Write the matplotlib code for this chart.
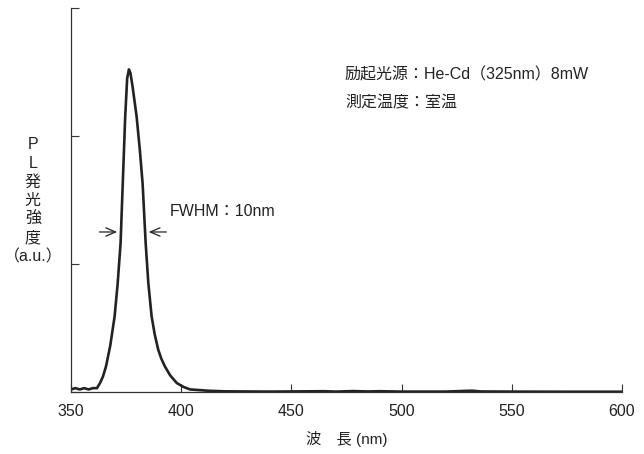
import matplotlib
matplotlib.use('Agg')
import matplotlib.pyplot as plt

plt.rcParams['font.family'] = ['Liberation Sans', 'Noto Sans CJK JP', 'DejaVu Sans']

# PL spectrum (wavelength nm, intensity a.u.)
wavelength = [350, 352, 354, 356, 358, 360, 361.8, 363.2, 364.5, 365.9, 367.8,
              369.8, 371.2, 372.5, 373.5, 374.6, 375.5, 376.3, 377.0, 378.0,
              379.8, 381.2, 382.5, 383.9, 385.1, 386.6, 388.0, 389.6, 391.0,
              392.6, 395.0, 398.0, 401.0, 404.0, 408.0, 412.0, 420.0, 440.0,
              465.0, 470.0, 478.0, 485.0, 490.0, 500.0, 520.0, 528.0, 532.0,
              536.0, 550.0, 575.0, 600.0]
intensity = [0.02, 0.03, 0.02, 0.03, 0.02, 0.03, 0.03, 0.07, 0.12, 0.20, 0.36,
             0.59, 0.85, 1.16, 1.63, 2.15, 2.45, 2.52, 2.49, 2.38,
             2.15, 1.90, 1.63, 1.16, 0.85, 0.59, 0.45, 0.33, 0.26,
             0.20, 0.13, 0.07, 0.04, 0.02, 0.015, 0.01, 0.005, 0.003,
             0.006, 0.003, 0.007, 0.004, 0.006, 0.003, 0.003, 0.008, 0.01,
             0.004, 0.003, 0.002, 0.002]

x_ticks = [350, 400, 450, 500, 550, 600]
y_ticks = [0, 1, 2, 3]

fwhm_left = 372.2
fwhm_right = 384.0
half_max = 1.25

fig = plt.figure(figsize=(6.44, 4.54), dpi=100)
ax = fig.add_axes([0.1102, 0.1366, 0.8556, 0.8458])

ax.plot(wavelength, intensity, color='#222222', lw=1.9)

ax.set_xlim(350, 600)
ax.set_ylim(0, 3)
ax.set_xticks(x_ticks)
ax.set_xticklabels([str(v) for v in x_ticks], fontsize=11.5, color='#222222')
ax.set_yticks(y_ticks)
ax.set_yticklabels([])
ax.tick_params(direction='in', length=6, width=0.8, color='#333333')
ax.tick_params(axis='x', pad=9)
for side in ['top', 'right']:
    ax.spines[side].set_visible(False)
for side in ['left', 'bottom']:
    ax.spines[side].set_color('#333333')
    ax.spines[side].set_linewidth(0.9)

# FWHM arrows
arrow = dict(arrowstyle='->,head_length=0.7,head_width=0.3',
             color='#222222', lw=0.9)
ax.annotate('', xy=(fwhm_left, half_max), xytext=(fwhm_left - 10.5, half_max),
            arrowprops=arrow)
ax.annotate('', xy=(fwhm_right, half_max), xytext=(fwhm_right + 10.5, half_max),
            arrowprops=arrow)
ax.text(395, 1.41, 'FWHM：10nm', fontsize=11.5, color='#222222', va='center')

ax.text(474.3, 2.48, '励起光源：He-Cd（325nm）8mW', fontsize=11.5,
        color='#222222', va='center')
ax.text(474.3, 2.26, '測定温度：室温', fontsize=11.5, color='#222222', va='center')

ax.set_xlabel('波　長 (nm)', fontsize=11, color='#222222', labelpad=8)
fig.text(0.051, 0.558, 'P\nL\n発\n光\n強\n度\n（a.u.）', fontsize=11.5,
         color='#222222', ha='center', va='center', linespacing=1.3)

fig.savefig('out.png', dpi=100)
